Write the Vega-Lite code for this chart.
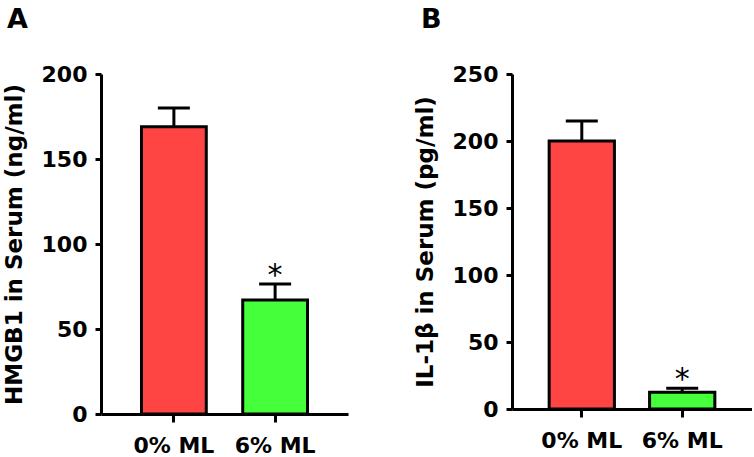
{
  "$schema": "https://vega.github.io/schema/vega-lite/v6.json",
  "background": "white",
  "padding": {"left": 3, "top": 6, "right": 0, "bottom": 0},
  "spacing": 66,
  "datasets": {
    "hmgb1": [
      {"group": "0% ML", "value": 169, "upper": 180, "sig": ""},
      {"group": "6% ML", "value": 67, "upper": 76.5, "sig": "*"}
    ],
    "il1b": [
      {"group": "0% ML", "value": 200, "upper": 215, "sig": ""},
      {"group": "6% ML", "value": 12.5, "upper": 15.5, "sig": "*"}
    ]
  },
  "config": {
    "view": {"stroke": null},
    "font": "DejaVu Sans",
    "axis": {
      "labelFont": "DejaVu Sans",
      "labelFontWeight": "bold",
      "labelFontSize": 22,
      "labelColor": "black",
      "titleFont": "DejaVu Sans",
      "titleFontWeight": "bold",
      "titleFontSize": 23,
      "titleColor": "black",
      "domainColor": "black",
      "domainWidth": 3,
      "tickColor": "black",
      "tickWidth": 3,
      "grid": false
    },
    "title": {
      "font": "DejaVu Sans",
      "fontWeight": "bold",
      "fontSize": 27,
      "color": "black",
      "anchor": "start",
      "frame": "bounds"
    }
  },
  "hconcat": [
    {
      "title": {"text": "A", "offset": 29, "dx": 4},
      "width": 247,
      "height": 340,
      "data": {"name": "hmgb1"},
      "encoding": {
        "x": {
          "field": "group",
          "type": "nominal",
          "sort": null,
          "scale": {"paddingInner": 0.36, "paddingOuter": 0.4},
          "axis": {"title": null, "labelAngle": 0, "tickSize": 8, "labelPadding": 13}
        }
      },
      "layer": [
        {
          "mark": {"type": "rule", "color": "black", "strokeWidth": 3},
          "encoding": {
            "y": {"field": "value", "type": "quantitative"},
            "y2": {"field": "upper"}
          }
        },
        {
          "mark": {"type": "tick", "color": "black", "thickness": 3, "size": 32, "opacity": 1},
          "encoding": {
            "y": {"field": "upper", "type": "quantitative"}
          }
        },
        {
          "mark": {"type": "bar", "stroke": "black", "strokeWidth": 3, "opacity": 1},
          "encoding": {
            "y": {
              "field": "value",
              "type": "quantitative",
              "scale": {"domain": [0, 200], "nice": false},
              "axis": {"title": "HMGB1 in Serum (ng/ml)", "values": [0, 50, 100, 150, 200], "tickSize": 6, "labelPadding": 8, "titlePadding": 15}
            },
            "color": {
              "field": "group",
              "type": "nominal",
              "scale": {"domain": ["0% ML", "6% ML"], "range": ["#FF4444", "#44FF3A"]},
              "legend": null
            }
          }
        },
        {
          "mark": {"type": "text", "fontSize": 30, "font": "DejaVu Sans", "baseline": "alphabetic", "dy": 1, "color": "black"},
          "encoding": {
            "y": {"field": "upper", "type": "quantitative"},
            "text": {"field": "sig"}
          }
        }
      ]
    },
    {
      "title": {"text": "B", "offset": 29, "dx": 7},
      "width": 240,
      "height": 335,
      "data": {"name": "il1b"},
      "encoding": {
        "x": {
          "field": "group",
          "type": "nominal",
          "sort": null,
          "scale": {"paddingInner": 0.35, "paddingOuter": 0.37},
          "axis": {"title": null, "labelAngle": 0, "tickSize": 8, "labelPadding": 13}
        }
      },
      "layer": [
        {
          "mark": {"type": "rule", "color": "black", "strokeWidth": 3},
          "encoding": {
            "y": {"field": "value", "type": "quantitative"},
            "y2": {"field": "upper"}
          }
        },
        {
          "mark": {"type": "tick", "color": "black", "thickness": 3, "size": 32, "opacity": 1},
          "encoding": {
            "y": {"field": "upper", "type": "quantitative"}
          }
        },
        {
          "mark": {"type": "bar", "stroke": "black", "strokeWidth": 3, "opacity": 1},
          "encoding": {
            "y": {
              "field": "value",
              "type": "quantitative",
              "scale": {"domain": [0, 250], "nice": false},
              "axis": {"title": "IL-1β in Serum (pg/ml)", "values": [0, 50, 100, 150, 200, 250], "tickSize": 6, "labelPadding": 8, "titlePadding": 15}
            },
            "color": {
              "field": "group",
              "type": "nominal",
              "scale": {"domain": ["0% ML", "6% ML"], "range": ["#FF4444", "#44FF3A"]},
              "legend": null
            }
          }
        },
        {
          "mark": {"type": "text", "fontSize": 30, "font": "DejaVu Sans", "baseline": "alphabetic", "dy": 1, "color": "black"},
          "encoding": {
            "y": {"field": "upper", "type": "quantitative"},
            "text": {"field": "sig"}
          }
        }
      ]
    }
  ],
  "resolve": {"scale": {"y": "independent", "x": "independent", "color": "shared"}}
}
